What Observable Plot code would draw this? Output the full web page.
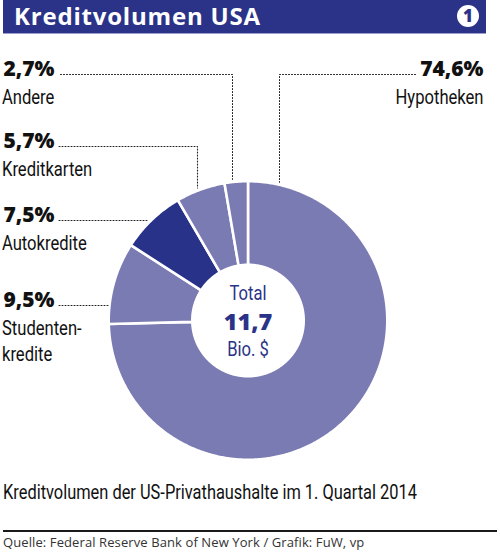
<!DOCTYPE html>
<html><head><meta charset="utf-8">
<script src="https://cdn.jsdelivr.net/npm/d3@7"></script>
<script src="https://cdn.jsdelivr.net/npm/@observablehq/plot@0.6"></script>
<style>
html,body{margin:0;padding:0;background:#fff;}
body{width:500px;height:553px;position:relative;overflow:hidden;}
#hdr{position:absolute;left:3px;top:0;width:483px;height:34px;background:#2b3388;border-bottom:1px solid #9c9ed0;box-sizing:border-box;}
#ttl{position:absolute;left:11px;top:0px;line-height:31px;color:#fff;font-family:"Open Sans",sans-serif;font-weight:700;font-size:24px;letter-spacing:0.8px;white-space:nowrap;}
#num{position:absolute;left:454px;top:5px;width:22px;height:22px;border-radius:50%;background:#fff;color:#2b3388;font-family:"Open Sans",sans-serif;font-weight:800;font-size:17px;line-height:22px;text-align:center;}
#chart{position:absolute;left:0;top:40px;}
#cap{position:absolute;left:3px;top:480px;font-family:Roboto,sans-serif;font-size:20px;line-height:24px;color:#111;white-space:nowrap;transform:scaleX(0.82);transform-origin:0 0;}
#rule{position:absolute;left:3px;top:530px;width:494px;height:2px;background:#1a1a1a;}
#src{position:absolute;left:3px;top:533px;font-family:"Open Sans",sans-serif;font-size:13px;line-height:18px;color:#333;white-space:nowrap;letter-spacing:0.1px;}
</style>
</head><body>
<div id="hdr"><div id="ttl"></div><div id="num"></div></div>
<div id="chart"></div>
<div id="cap"></div>
<div id="rule"></div>
<div id="src"></div>
<script>
// ---- data ----
const title = "Kreditvolumen USA";
const badge = "1";
const categories = ["Hypotheken", "Studentenkredite", "Autokredite", "Kreditkarten", "Andere"];
const shares = [74.6, 9.5, 7.5, 5.7, 2.7];
const pctLabels = ["74,6%", "9,5%", "7,5%", "5,7%", "2,7%"];
const nameLabels = [["Hypotheken"], ["Studenten-", "kredite"], ["Autokredite"], ["Kreditkarten"], ["Andere"]];
const centerLabels = ["Total", "11,7", "Bio. $"];
const caption = "Kreditvolumen der US-Privathaushalte im 1. Quartal 2014";
const source = "Quelle: Federal Reserve Bank of New York / Grafik: FuW, vp";

// ---- style / layout ----
const LIGHT = "#7b7bb4", DARK = "#283289", NAVY = "#2b3388";
const sliceColors = [LIGHT, LIGHT, DARK, LIGHT, LIGHT];
const R = 138, r = 57, GAP = 2.6;
const CONDENSE = 0.79;
// annotation layout (units = px relative to donut centre, y up)
const labelLayout = {
  "Hypotheken":      {anchor: "end",   tx: 235.5, ty: 245, h: [167.5, 31.5], vertical: true},
  "Andere":          {anchor: "start", tx: -246, ty: 245, h: [-187.5, -15.5], vertical: true},
  "Kreditkarten":    {anchor: "start", tx: -246, ty: 173, h: [-189, -50.5], vertical: true},
  "Autokredite":     {anchor: "start", tx: -246, ty: 99,  h: [-189, -100.5], vertical: false},
  "Studentenkredite":{anchor: "start", tx: -246, ty: 14,  h: [-189, -139.5], vertical: false}
};
const NAME_DY = 28, LINE_H = 26;
const centerY = [20.5, -9.5, -35.5];

document.getElementById("ttl").textContent = title;
document.getElementById("num").textContent = badge;
document.getElementById("cap").textContent = caption;
document.getElementById("src").textContent = source;

// slice polygons from the pie layout
const pie = d3.pie().sort(null).value(d => d)(shares);
const Ro = R + GAP / 2, Ri = r - GAP / 2;
const poly = [];
pie.forEach((p, i) => {
  const n = Math.max(2, Math.ceil((p.endAngle - p.startAngle) / (Math.PI / 360)));
  for (let k = 0; k <= n; k++) {
    const a = p.startAngle + (p.endAngle - p.startAngle) * k / n;
    poly.push({cat: categories[i], x: Ro * Math.sin(a), y: Ro * Math.cos(a)});
  }
  for (let k = n; k >= 0; k--) {
    const a = p.startAngle + (p.endAngle - p.startAngle) * k / n;
    poly.push({cat: categories[i], x: Ri * Math.sin(a), y: Ri * Math.cos(a)});
  }
});

// leader lines
const leaders = [];
categories.forEach(c => {
  const L = labelLayout[c];
  const ly = L.ty + 1;
  leaders.push({cat: c, x: L.h[0], y: ly});
  leaders.push({cat: c, x: L.h[1], y: ly});
  if (L.vertical) leaders.push({cat: c, x: L.h[1], y: Math.sqrt(R * R - L.h[1] * L.h[1]) + 4});
});

const pctRows = categories.map((c, i) => ({text: pctLabels[i], x: labelLayout[c].tx + (labelLayout[c].anchor === "start" ? 1.5 : 0), y: labelLayout[c].ty, anchor: labelLayout[c].anchor}));
const nameRows = [];
categories.forEach((c, i) => nameLabels[i].forEach((t, j) => nameRows.push({text: t, x: labelLayout[c].tx, y: labelLayout[c].ty - NAME_DY - j * LINE_H, anchor: labelLayout[c].anchor})));
const centerRows = centerLabels.map((t, i) => ({text: t, x: 0, y: centerY[i], bold: i === 1}));

const NARROW = 'Roboto,sans-serif';
const BOLD = '"Open Sans",sans-serif';

const chart = Plot.plot({
  width: 500, height: 440, margin: 0,
  x: {domain: [-247.5, 252.5], axis: null},
  y: {domain: [-160, 280], axis: null},
  color: {domain: categories, range: sliceColors},
  style: {background: "transparent", overflow: "visible"},
  marks: [
    Plot.line(poly, {x: "x", y: "y", z: "cat", fill: "cat", stroke: "white", strokeWidth: GAP, curve: "linear-closed"}),
    Plot.line(leaders, {x: "x", y: "y", z: "cat", stroke: "#222", strokeWidth: 1.1, strokeDasharray: "1,2"}),
    Plot.text(pctRows.filter(d => d.anchor === "start"), {x: "x", y: "y", text: "text", textAnchor: "start", lineAnchor: "bottom", fontFamily: BOLD, fontWeight: 800, fontSize: 21, fill: "#111"}),
    Plot.text(pctRows.filter(d => d.anchor === "end"), {x: "x", y: "y", text: "text", textAnchor: "end", lineAnchor: "bottom", fontFamily: BOLD, fontWeight: 800, fontSize: 21, fill: "#111"}),
    Plot.text(nameRows.filter(d => d.anchor === "start"), {x: "x", y: "y", text: "text", textAnchor: "start", lineAnchor: "bottom", fontFamily: NARROW, fontSize: 21, fill: "#111", ariaDescription: "narrow"}),
    Plot.text(nameRows.filter(d => d.anchor === "end"), {x: "x", y: "y", text: "text", textAnchor: "end", lineAnchor: "bottom", fontFamily: NARROW, fontSize: 21, fill: "#111", ariaDescription: "narrow"}),
    Plot.text(centerRows.filter(d => !d.bold), {x: "x", y: "y", text: "text", lineAnchor: "bottom", fontFamily: NARROW, fontSize: 21, fill: NAVY, ariaDescription: "narrow"}),
    Plot.text(centerRows.filter(d => d.bold), {x: "x", y: "y", text: "text", lineAnchor: "bottom", fontFamily: BOLD, fontWeight: 800, fontSize: 23.5, fill: NAVY, style: "letter-spacing:1.2px"})
  ]
});
// condensed lettering (the reference uses a condensed face)
chart.querySelectorAll('g[aria-description="narrow"] text').forEach(t => {
  const tr = t.getAttribute("transform") || "";
  t.setAttribute("transform", tr + ` scale(${CONDENSE},1)`);
});
document.getElementById("chart").appendChild(chart);
</script>
</body></html>
